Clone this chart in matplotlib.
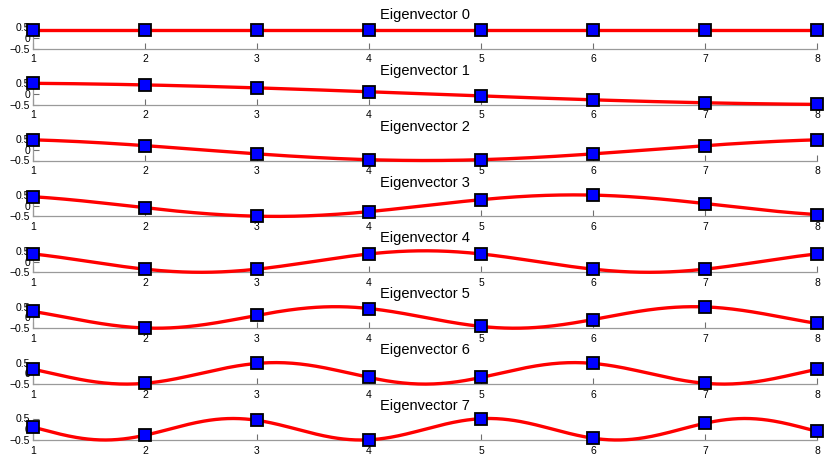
import matplotlib.pyplot as plt
import numpy as np

plt.rcParams['font.family'] = ['Liberation Sans', 'DejaVu Sans']

# sample positions and eigenvector values
positions = [1, 2, 3, 4, 5, 6, 7, 8]
eigvecs = [
    [0.354, 0.354, 0.354, 0.354, 0.354, 0.354, 0.354, 0.354],
    [0.490, 0.416, 0.278, 0.098, -0.098, -0.278, -0.416, -0.490],
    [0.462, 0.191, -0.191, -0.462, -0.462, -0.191, 0.191, 0.462],
    [0.416, -0.098, -0.490, -0.278, 0.278, 0.490, 0.098, -0.416],
    [0.354, -0.354, -0.354, 0.354, 0.354, -0.354, -0.354, 0.354],
    [0.278, -0.490, 0.098, 0.416, -0.416, -0.098, 0.490, -0.278],
    [0.191, -0.462, 0.462, -0.191, -0.191, 0.462, -0.462, 0.191],
    [0.098, -0.278, 0.416, -0.490, 0.490, -0.416, 0.278, -0.098],
]
titles = ['Eigenvector %d' % k for k in range(8)]
# continuous cosine behind each eigenvector: frequency and amplitude
freqs = [0, 1, 2, 3, 4, 5, 6, 7]
amps = [0.354, 0.5, 0.5, 0.5, 0.5, 0.5, 0.5, 0.5]

W, H = 830, 463
fig = plt.figure(figsize=(W / 100, H / 100), dpi=100)

xs = np.linspace(1, 8, 400)
for k in range(8):
    bottom_px = 48.7 + 55.9 * k
    ax = fig.add_axes([33 / W, 1 - bottom_px / H, 784 / W, 21.5 / H])
    curve = amps[k] * np.cos(np.pi * freqs[k] * (xs - 0.5) / 8)
    ax.plot(xs, curve, color='red', lw=2.4, zorder=3, clip_on=False)
    ax.plot(positions, eigvecs[k], 's', ms=8.5, mfc='#0000ff', mec='black',
            mew=1.3, zorder=4, clip_on=False)
    ax.set_xlim(1, 8)
    ax.set_ylim(-0.5, 0.5)
    ax.set_xticks(positions)
    ax.set_yticks([-0.5, 0, 0.5])
    ax.set_yticklabels(['\u22120.5', '0', '0.5'])
    ax.spines['top'].set_visible(False)
    ax.spines['right'].set_visible(False)
    for s in ['left', 'bottom']:
        ax.spines[s].set_color('#9a9a9a')
        ax.spines[s].set_linewidth(0.9)
    ax.tick_params(direction='in', length=4, width=0.8, color='#707070',
                   labelsize=7.5)
    ax.tick_params(axis='x', pad=4)
    ax.tick_params(axis='y', pad=2)
    ax.set_title(titles[k], fontsize=10.5, pad=6)
    ax.patch.set_alpha(0)

fig.savefig('out.png', dpi=100)
